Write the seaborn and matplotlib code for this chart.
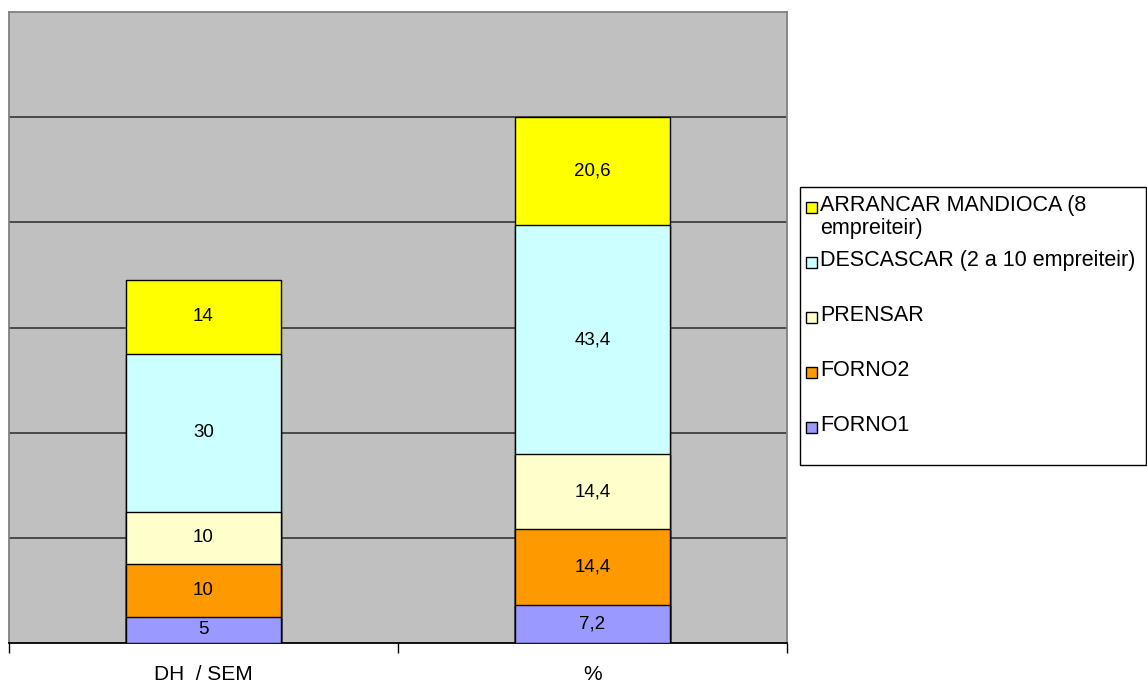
import numpy as np
import pandas as pd
import matplotlib
matplotlib.use("Agg")
import matplotlib.pyplot as plt
from matplotlib.patches import Rectangle
import seaborn as sns

# Data
categories = ["DH  / SEM", "%"]
series = ["FORNO1", "FORNO2", "PRENSAR",
          "DESCASCAR (2 a 10 empreiteir)", "ARRANCAR MANDIOCA (8 empreiteir)"]
forno1 = [5, 7.2]
forno2 = [10, 14.4]
prensar = [10, 14.4]
descascar = [30, 43.4]
arrancar = [14, 20.6]
legend_labels = ["FORNO1", "FORNO2", "PRENSAR",
                 "DESCASCAR (2 a 10 empreiteir)", "ARRANCAR MANDIOCA (8\nempreiteir)"]
colors = ["#9999FF", "#FF9900", "#FFFFCC", "#CCFFFF", "#FFFF00"]

sns.set_style("white")
plt.rcParams["font.family"] = ["Liberation Sans", "DejaVu Sans"]
plt.rcParams["text.color"] = "black"
plt.rcParams["xtick.color"] = "black"

df = pd.DataFrame(dict(zip(series, [forno1, forno2, prensar, descascar, arrancar])),
                  index=categories)
cum = df.cumsum(axis=1)

W, H = 1147, 686
fig = plt.figure(figsize=(W / 100, H / 100), dpi=100)
ax = fig.add_axes([9 / W, 1 - 643 / H, (787 - 9) / W, (643 - 12) / H])
ax.set_facecolor("#C0C0C0")

# stacked bars: draw cumulative totals from the top layer down
for col, c in zip(reversed(series), reversed(colors)):
    sns.barplot(x=categories, y=cum[col].values, color=c, saturation=1,
                width=0.4, edgecolor="black", linewidth=1, ax=ax, zorder=3)

def fmt(v):
    return ("%g" % v).replace(".", ",")

for col in series:
    for j, cat in enumerate(categories):
        v = df.loc[cat, col]
        mid = cum.loc[cat, col] - v / 2
        ax.text(j, mid, fmt(v), ha="center", va="center", fontsize=13.5,
                color="black", zorder=5)

ax.set_xlim(-0.5, 1.5)
ax.set_ylim(0, 120)
ax.set_yticks([20, 40, 60, 80, 100])
ax.set_yticklabels([])
ax.tick_params(axis="y", length=0)
ax.yaxis.grid(True, color="#404040", linewidth=1.3)
ax.xaxis.grid(False)
ax.set_axisbelow(True)
ax.set_xticks([0, 1])
ax.set_xticklabels(categories, fontsize=15)
ax.set_xticks([-0.5, 0.5, 1.5], minor=True)
ax.tick_params(axis="x", which="major", length=0, pad=16, labelcolor="black")
ax.tick_params(axis="x", which="minor", length=7, width=1, color="black", direction="out", bottom=True)
ax.set_xlabel("")
ax.set_ylabel("")
for s in ["left", "top", "right"]:
    ax.spines[s].set_color("#808080")
    ax.spines[s].set_linewidth(1.3)
ax.spines["bottom"].set_color("black")
ax.spines["bottom"].set_linewidth(1.3)

# legend box drawn by hand to keep the uneven spacing of the original
fig.add_artist(Rectangle((800 / W, 1 - 465 / H), (1146 - 800) / W, (465 - 187) / H,
                         transform=fig.transFigure, facecolor="white",
                         edgecolor="black", linewidth=1))
ypos = [427, 372, 317, 262, 207]
for lab, c, y in zip(legend_labels, colors, ypos):
    fig.add_artist(Rectangle((806 / W, 1 - (y + 5.5) / H), 11 / W, 11 / H,
                             transform=fig.transFigure, facecolor=c,
                             edgecolor="black", linewidth=1))
    fig.text(820 / W, 1 - (y - 12) / H, lab, ha="left", va="top",
             fontsize=15.5, linespacing=1.15, color="black")

fig.savefig("out.png", dpi=100)
